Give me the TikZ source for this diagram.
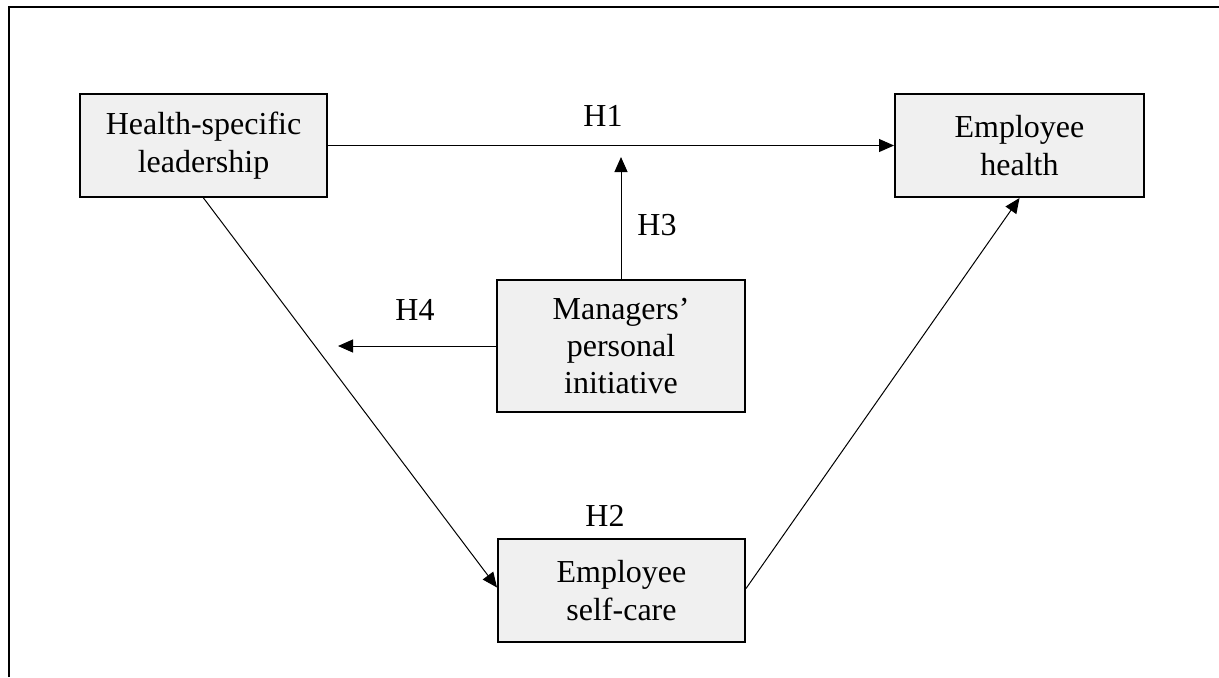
\documentclass[tikz,border=0pt]{standalone}
\usepackage{fontspec}
\setmainfont{Liberation Serif}
\usetikzlibrary{arrows.meta}
\definecolor{boxfill}{HTML}{F0F0F0}
\tikzset{
  var/.style={draw=black, line width=1pt, fill=boxfill, align=center, inner sep=0pt,
    font=\fontsize{16}{18.7}\selectfont},
  conn/.style={line width=0.5pt, -{Triangle[length=7.5pt,width=6.5pt]}},
  hlab/.style={font=\fontsize{16}{18.7}\selectfont, inner sep=0pt}
}
\begin{document}
\begin{tikzpicture}[x=0.5pt,y=-0.5pt]
\useasboundingbox (0,0) rectangle (1219,677);
\draw[line width=1pt] (8.5,677) -- (8.5,6.5) -- (1219,6.5);
\node[var, minimum width=123.5pt, minimum height=51.5pt] (hsl) at (203.5,145.5) {Health-specific\\leadership};
\node[var, minimum width=124.5pt, minimum height=51.5pt] (eh) at (1019.5,145.5) {Employee\\health};
\node[var, minimum width=124pt, minimum height=66pt] (mpi) at (621,346) {Managers'\\personal\\initiative};
\node[var, minimum width=123.5pt, minimum height=51.5pt] (esc) at (621.5,590.5) {Employee\\self-care};
\coordinate (h3end) at (621,157);
\coordinate (h4end) at (338,346);
\draw[conn] (hsl.east) -- (eh.west);
\draw[conn] (mpi.north) -- (h3end);
\draw[conn] (mpi.west) -- (h4end);
\draw[conn] (hsl.south) -- ([yshift=1.5pt]esc.west);
\draw[conn] ([yshift=1pt]esc.east) -- (eh.south);
\node[hlab] (l1) at (603,116) {H1};
\node[hlab] (l3) at (657,225) {H3};
\node[hlab] (l4) at (415,310) {H4};
\node[hlab] (l2) at (605,516) {H2};
\end{tikzpicture}
\end{document}
